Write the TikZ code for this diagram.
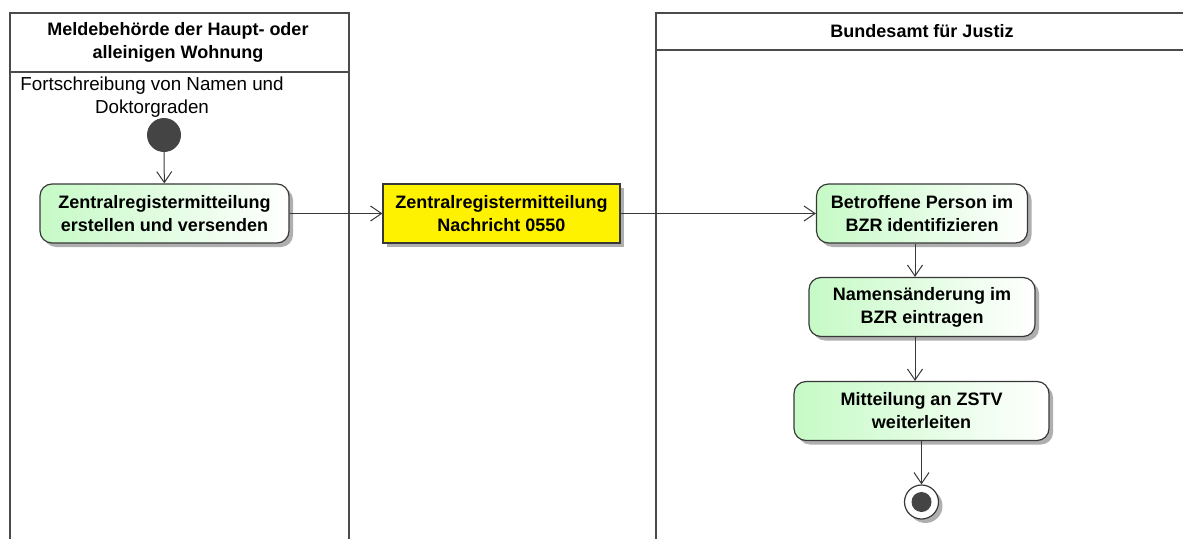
\documentclass[tikz,border=0pt]{standalone}
\usepackage{fontspec}
\setmainfont{Liberation Sans}
\usetikzlibrary{arrows.meta,shadows}
\definecolor{lanegray}{RGB}{75,75,75}
\definecolor{linegray}{RGB}{56,56,56}
\definecolor{actgreen}{RGB}{198,250,198}
\definecolor{shadegray}{RGB}{175,175,175}
\definecolor{dotgray}{RGB}{68,68,68}
\begin{document}
\begin{tikzpicture}[x=1pt,y=-1pt,
  lane/.style={draw=lanegray,line width=2.2pt},
  title/.style={font=\fontsize{18}{23}\selectfont\bfseries,align=center},
  note/.style={font=\fontsize{18.8}{23}\selectfont,align=center},
  shade/.style={general shadow={fill=shadegray,shadow xshift=4pt,shadow yshift=-4pt}},
  action/.style={draw=linegray,line width=1.2pt,rounded corners=12pt,
    left color=actgreen,right color=white,shade,inner sep=0pt,minimum height=59pt,
    font=\fontsize{18}{23}\selectfont\bfseries,align=center},
  msg/.style={draw=linegray,line width=1.2pt,fill=yellow,shade,inner sep=0pt,minimum height=59pt,
    font=\fontsize{18}{23}\selectfont\bfseries,align=center},
  start/.style={circle,fill=dotgray,minimum size=34pt,inner sep=0pt},
  stop/.style={circle,draw=linegray,line width=1.2pt,fill=white,shade,minimum size=34pt,inner sep=0pt,
    path picture={\fill[dotgray] (path picture bounding box.center) circle (10pt);}},
  flow/.style={draw=linegray,line width=1pt,-{Straight Barb[length=11pt,width=15pt]}}]
  \useasboundingbox (0,0) rectangle (1183,538);
  \draw[lane] (10,540) -- (10,13) -- (349,13) -- (349,540);
  \draw[lane] (10,72) -- (349,72);
  \draw[lane] (656,540) -- (656,13) -- (1185,13);
  \draw[lane] (656,50) -- (1185,50);
  \node[title] (lane1) at (178,42) {Meldebehörde der Haupt- oder\\alleinigen Wohnung};
  \node[title] (lane2) at (922,31) {Bundesamt für Justiz};
  \node[note] (trigger) at (152,97) {Fortschreibung von Namen und\\Doktorgraden};
  \node[start] (start) at (164,135) {};
  \node[action,minimum width=249pt] (create) at (164.5,213.5) {Zentralregistermitteilung\\erstellen und versenden};
  \node[msg,minimum width=237pt] (message) at (501.5,213.5) {Zentralregistermitteilung\\Nachricht 0550};
  \node[action,minimum width=211pt] (identify) at (922,213.5) {Betroffene Person im\\BZR identifizieren};
  \node[action,minimum width=226pt] (register) at (922,307) {Namensänderung im\\BZR eintragen};
  \node[action,minimum width=255pt] (forward) at (921.5,411) {Mitteilung an ZSTV\\weiterleiten};
  \node[stop] (stop) at (921.5,502) {};
  \draw[flow] (start) -- (create);
  \draw[flow] (create) -- (message);
  \draw[flow] (message) -- (identify);
  \draw[flow] ([xshift=-7pt]identify.south) -- ([xshift=-7pt]register.north);
  \draw[flow] ([xshift=-7pt]register.south) -- ([xshift=-6.5pt]forward.north);
  \draw[flow] (forward) -- (stop);
\end{tikzpicture}
\end{document}
